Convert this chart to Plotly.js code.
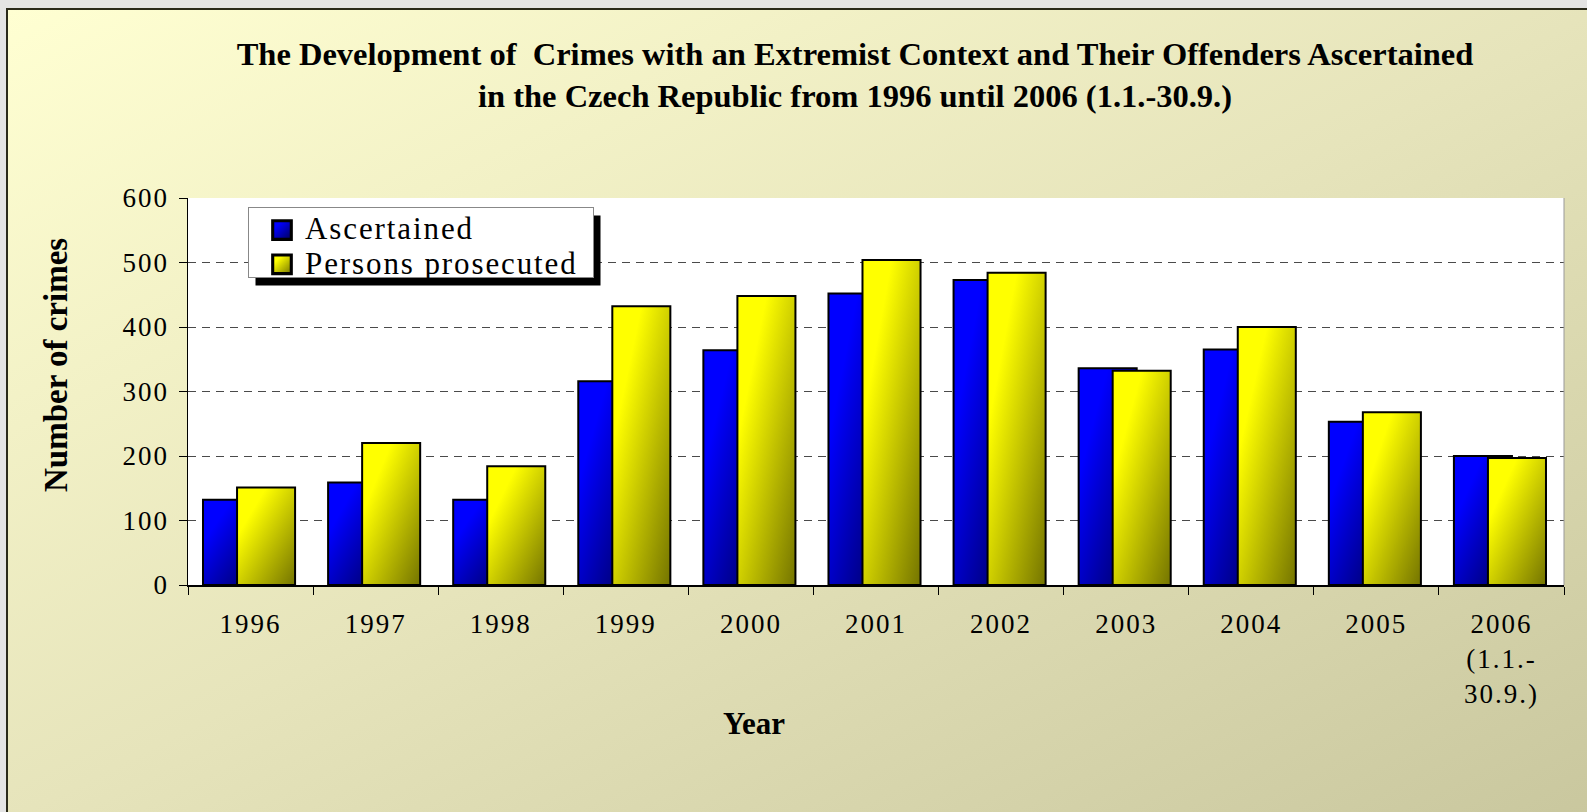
<!DOCTYPE html>
<html><head><meta charset="utf-8">
<script src="https://cdn.plot.ly/plotly-3.0.1.min.js"></script>
<style>
html,body{margin:0;padding:0;width:1587px;height:812px;overflow:hidden;background:#e4e4e4;}
#frame{position:absolute;left:6px;top:8px;width:1590px;height:810px;border:2px solid #2a2a1a;
 background:linear-gradient(to bottom right,#ffffd2 0%,#e6e4bb 50%,#c9c79e 100%);}
#chart{position:absolute;left:0;top:0;width:1587px;height:812px;}
.legendtext{font-size:31px !important;letter-spacing:1.9px;}
.legendpoints path{transform:translate(33px,0px) scale(1.55);}
.legend rect.bg{width:345px;height:70px;}
.xtick text,.ytick text{letter-spacing:2px;}
</style></head><body>
<div id="frame"></div><div id="chart"></div>
<script>
const categories = ['1996','1997','1998','1999','2000','2001','2002','2003','2004','2005','2006 (1.1.-30.9.)'];
const tickLabels = ['1996','1997','1998','1999','2000','2001','2002','2003','2004','2005','2006<br>(1.1.-<br>30.9.)'];
const ascertained = [132,159,132,316,364,452,473,336,365,253,200];
const prosecuted  = [151,220,184,432,448,504,484,332,400,268,197];
const seriesNames = ['Ascertained','Persons prosecuted'];

const serif = 'Liberation Serif, Times New Roman, serif';
const PL = 188, PR = 1564, PT = 198, PB = 585;
const W = 1587, H = 812;
const fx = px => (px-PL)/(PR-PL), fy = py => (PB-py)/(PB-PT);

const traces = [
  {type:'bar', name:seriesNames[0], x:categories, y:ascertained,
   width:0.464, offset:-0.38,
   marker:{color:'#0000e0', line:{color:'#000', width:2}}},
  {type:'bar', name:seriesNames[1], x:categories, y:prosecuted,
   width:0.464, offset:-0.108,
   marker:{color:'#d8d800', line:{color:'#000', width:2}}}
];

const layout = {
  width:W, height:H,
  paper_bgcolor:'rgba(0,0,0,0)', plot_bgcolor:'#ffffff',
  margin:{l:PL, r:W-PR, t:PT, b:H-PB, pad:0},
  barmode:'overlay',
  showlegend:true,
  title:{text:'The Development of  Crimes with an Extremist Context and Their Offenders Ascertained<br>in the Czech Republic from 1996 until 2006 (1.1.-30.9.)',
    font:{family:serif, size:32.5, weight:'bold', color:'#000'},
    x:855/W, xanchor:'center', xref:'container', y:1-65/H, yanchor:'top', yref:'container'},
  xaxis:{type:'category', tickvals:categories, ticktext:tickLabels,
    tickson:'boundaries', ticks:'outside', ticklen:8, tickcolor:'#000', tickwidth:1,
    showline:true, linecolor:'#000', linewidth:1.5, showgrid:false,
    ticklabelstandoff:14,
    tickfont:{family:serif, size:27, color:'#000'}, fixedrange:true},
  yaxis:{range:[0,600], dtick:100, tick0:0, ticks:'outside', ticklen:8, tickcolor:'#000',
    showline:true, linecolor:'#000', linewidth:1.5,
    showgrid:true, gridcolor:'#4a4a4a', gridwidth:1, griddash:'8px,6px', zeroline:false,
    ticklabelstandoff:4,
    tickfont:{family:serif, size:27, color:'#000'},
    fixedrange:true},
  legend:{x:fx(248), y:fy(207), xanchor:'left', yanchor:'top',
    bgcolor:'#ffffff', bordercolor:'#888', borderwidth:1, itemwidth:46,
    font:{family:serif, size:24, color:'#000'}, tracegroupgap:0, itemsizing:'constant'},
  shapes:[
    {type:'line', xref:'paper', yref:'paper', x0:1, x1:1, y0:0, y1:1, line:{color:'#999', width:1}}
  ],
  annotations:[
    {text:'<b>Number of crimes</b>', xref:'paper', yref:'paper', x:fx(56), y:fy(365), textangle:-90,
     xanchor:'center', yanchor:'middle', showarrow:false, font:{family:serif, size:33, color:'#000'}},
    {text:'<b>Year</b>', xref:'paper', yref:'paper', x:fx(754), y:fy(723),
     xanchor:'center', yanchor:'middle', showarrow:false, font:{family:serif, size:31, color:'#000'}}
  ]
};

function addGradients(gd){
  const svg = gd.querySelector('svg.main-svg');
  const ns = 'http://www.w3.org/2000/svg';
  let defs = svg.querySelector('defs');
  if(!defs){defs=document.createElementNS(ns,'defs');svg.insertBefore(defs,svg.firstChild);}
  const mk = (id, c1, c2) => {
    if(document.getElementById(id)) return;
    const g = document.createElementNS(ns,'linearGradient');
    g.setAttribute('id',id);
    g.setAttribute('x1','0');g.setAttribute('y1','0');g.setAttribute('x2','1');g.setAttribute('y2','1');
    [[0,c1],[0.25,c1],[1,c2]].forEach(([o,c])=>{
      const s=document.createElementNS(ns,'stop');s.setAttribute('offset',o);s.setAttribute('stop-color',c);g.appendChild(s);});
    defs.appendChild(g);
  };
  mk('gBlue','#0000ff','#000058');
  mk('gYellow','#ffff00','#747400');
  const ids=['gBlue','gYellow'];
  gd.querySelectorAll('.barlayer .trace').forEach((t,i)=>{
    t.querySelectorAll('path').forEach(p=>{p.style.fill='url(#'+ids[i]+')';});
  });
  gd.querySelectorAll('.legend .traces').forEach((t,i)=>{
    t.querySelectorAll('.legendpoints path').forEach(p=>{p.style.fill='url(#'+ids[i]+')';});
  });
}

const gd = document.getElementById('chart');
Plotly.newPlot(gd, traces, layout, {displayModeBar:false, staticPlot:true}).then(()=>{
  const bg = gd.querySelector('.legend .bg');
  const r = bg.getBoundingClientRect();
  const shadow = {type:'rect', xref:'paper', yref:'paper', layer:'above',
    x0:fx(r.left+7), x1:fx(r.right+7), y0:fy(r.bottom+8), y1:fy(r.top+8),
    fillcolor:'#000', line:{width:0}};
  return Plotly.relayout(gd, {shapes: layout.shapes.concat([shadow])});
}).then(()=>addGradients(gd));
</script>
</body></html>
